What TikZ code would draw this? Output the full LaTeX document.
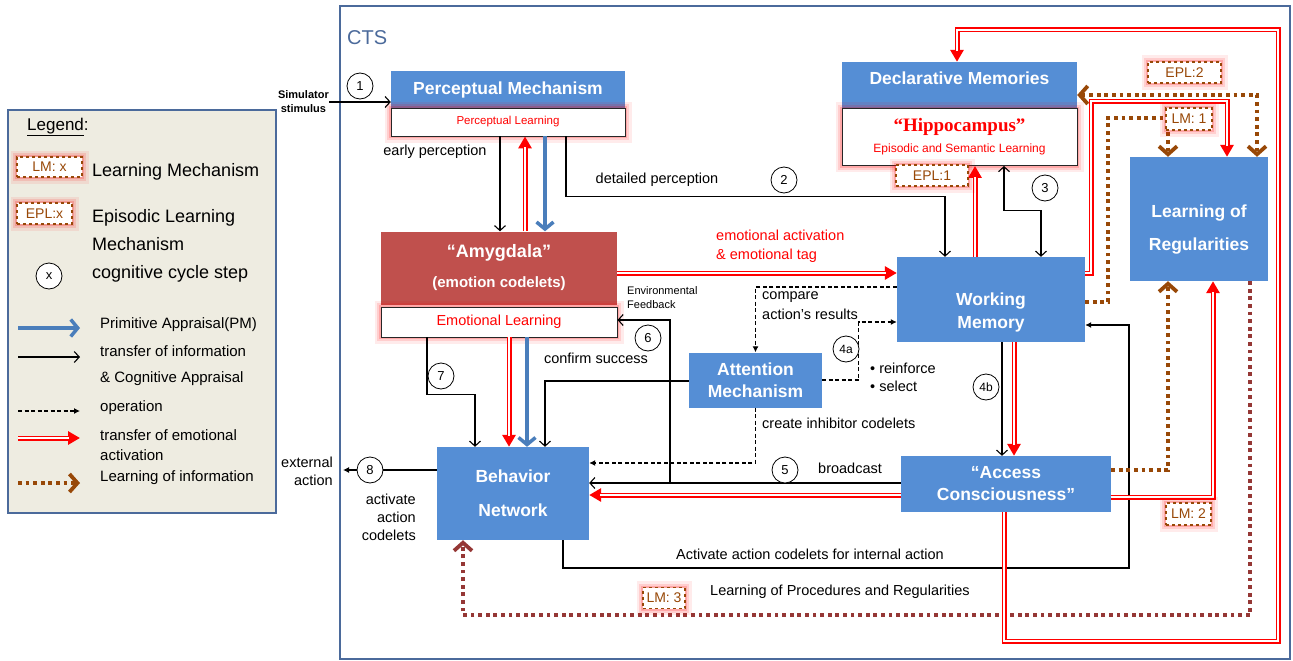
\documentclass[tikz,border=0pt]{standalone}
\usepackage{fontspec}
\setmainfont{Liberation Sans}
\newfontfamily\hipfont{Liberation Serif}
\usepackage{tikz}
\usetikzlibrary{arrows.meta}

\definecolor{boxblue}{HTML}{558ED5}
\definecolor{amyred}{HTML}{C0504D}
\definecolor{pablue}{HTML}{4A7EBB}
\definecolor{lrnbrown}{HTML}{984807}
\definecolor{procred}{HTML}{953735}
\definecolor{ctsframe}{HTML}{4B6A9B}
\definecolor{legfill}{HTML}{EEECE1}

\begin{document}
\begin{tikzpicture}[x=1pt,y=-1pt,
  blockbox/.style={fill=boxblue, text=white, inner sep=0pt, align=center, font=\bfseries\fontsize{17.5}{22}\selectfont},
  glow/.style={preaction={draw=red, draw opacity=.08, line width=13pt, solid}, preaction={draw=red, draw opacity=.12, line width=8pt, solid}, preaction={draw=red, draw opacity=.18, line width=4pt, solid}},
  learnbox/.style={draw=black!85, line width=0.9pt, fill=white, text=red, inner sep=0pt, align=center, glow},
  lmtag/.style={draw=lrnbrown, dashed, line width=1.1pt, fill=white, text=lrnbrown, inner sep=0pt, glow, font=\fontsize{14}{16}\selectfont},
  stepnum/.style={circle, draw, fill=white, line width=0.8pt, minimum size=26pt, inner sep=0pt, font=\fontsize{13}{15}\selectfont},
  lbl/.style={font=\fontsize{14.5}{19}\selectfont, inner sep=0pt, align=left},
  infoarr/.style={draw, line width=1.1pt, -{Straight Barb[length=5pt,width=11pt]}},
  infoboth/.style={infoarr, {Straight Barb[length=5pt,width=11pt]}-{Straight Barb[length=5pt,width=11pt]}},
  opdash/.style={draw, line width=1.1pt, dash pattern=on 4pt off 2.5pt, -{Latex[length=6pt,width=6pt]}},
  pmarr/.style={draw=pablue, line width=3.5pt, -{Straight Barb[length=7pt,width=17pt]}},
  emoarr/.style={preaction={draw=red, line width=5pt, shorten >=0pt, -{Triangle[length=12pt,width=13pt]}}, draw=white, line width=1.6pt, shorten >=11pt},
  lrnarr/.style={draw=lrnbrown, line width=3.8pt, dash pattern=on 3.8pt off 3.8pt, -{Straight Barb[length=8pt,width=18pt]}},
  procarr/.style={lrnarr, draw=procred}
]
\path[use as bounding box, fill=white] (0,0) rectangle (1293,661);

% legend
\node[draw=ctsframe, line width=2pt, fill=legfill, minimum width=268pt, minimum height=403pt, inner sep=0pt] (legend) at (142,311.5) {};
\node[anchor=west, inner sep=0pt, font=\fontsize{17}{20}\selectfont] (legtitle) at (27,127) {\underline{Legend}:};
\node[lmtag, minimum width=65pt, minimum height=20pt] (leglm) at (49.5,167) {LM: x};
\node[lmtag, minimum width=55pt, minimum height=21pt] (legepl) at (44.5,213.5) {EPL:x};
\node[stepnum] (legstep) at (49,276) {x};
\node[lbl, anchor=west, font=\fontsize{18}{28}\selectfont] (leglmtxt) at (92,172) {Learning Mechanism};
\node[lbl, anchor=west, font=\fontsize{18}{28}\selectfont] (legepltxt) at (92,230) {Episodic Learning\\Mechanism};
\node[lbl, anchor=west, font=\fontsize{18}{28}\selectfont] (legsteptxt) at (92,274) {cognitive cycle step};
\node[lbl, anchor=west, font=\fontsize{15}{26}\selectfont] (legpm) at (100,325) {Primitive Appraisal(PM)};
\node[lbl, anchor=west, font=\fontsize{15}{26}\selectfont] (leginfo) at (100,366) {transfer of information\\\& Cognitive Appraisal};
\node[lbl, anchor=west, font=\fontsize{15}{20}\selectfont] (legop) at (100,408) {operation};
\node[lbl, anchor=west, font=\fontsize{15}{20}\selectfont] (legemo) at (100,445.5) {transfer of emotional\\activation};
\node[lbl, anchor=west, font=\fontsize{15}{20}\selectfont] (leglrn) at (100,478) {Learning of information};
\foreach \sty/\yy in {pmarr/328, infoarr/357, opdash/411, emoarr/438, lrnarr/483}
  \draw[style=\sty] (18,\yy) -- (80,\yy);

% CTS frame
\node[draw=ctsframe, line width=2pt, minimum width=950pt, minimum height=653pt, inner sep=0pt] (cts) at (815,332.5) {};
\node[anchor=west, inner sep=0pt, text=ctsframe, font=\fontsize{20}{22}\selectfont] (ctslabel) at (347,38) {CTS};

% modules
\node[blockbox, minimum width=234pt, minimum height=37pt] (pm) at (508,89.5) {Perceptual Mechanism};
\node[learnbox, minimum width=234pt, minimum height=28pt, font=\fontsize{11.5}{13}\selectfont] (pl) at (508,122) {Perceptual Learning};
\node[blockbox, fill=amyred, minimum width=236pt, minimum height=73pt, font=\bfseries\fontsize{18}{30}\selectfont] (amy) at (499,268) {“Amygdala”\\{\fontsize{15}{30}\selectfont(emotion codelets)}};
\node[learnbox, minimum width=236pt, minimum height=30pt, font=\fontsize{14.5}{16}\selectfont] (el) at (499,322) {Emotional Learning};
\node[blockbox, minimum width=235pt, minimum height=46pt, text depth=14pt] (dm) at (959.5,85) {Declarative Memories};
\node[learnbox, minimum width=235pt, minimum height=57pt] (hip) at (959.5,137) {{\hipfont\bfseries\fontsize{19}{22}\selectfont “Hippocampus”}\\[7pt]{\fontsize{12}{14}\selectfont Episodic and Semantic Learning}};
\node[blockbox, minimum width=188pt, minimum height=85pt] (wm) at (991,299.5) {};
\node[blockbox, fill=none, font=\bfseries\fontsize{17.5}{23}\selectfont] (wmtext) at (991,312) {Working\\Memory};
\node[blockbox, minimum width=138pt, minimum height=124pt] (lor) at (1199,219) {};
\node[blockbox, fill=none, font=\bfseries\fontsize{17.5}{33}\selectfont] (lortext) at (1199,230) {Learning of\\Regularities};
\node[blockbox, minimum width=133pt, minimum height=55pt] (am) at (755.5,380) {Attention\\Mechanism};
\node[blockbox, minimum width=152pt, minimum height=93pt, font=\bfseries\fontsize{17.5}{34}\selectfont] (bn) at (513,493.5) {Behavior\\Network};
\node[blockbox, minimum width=210pt, minimum height=56pt] (ac) at (1006,484) {“Access\\Consciousness”};

% labels
\node[lbl, anchor=east, align=center, font=\bfseries\fontsize{11}{14}\selectfont] (sim) at (329,102) {Simulator\\stimulus};
\node[lbl] (earlyp) at (435,152) {early perception};
\node[lbl] (detp) at (657,180) {detailed perception};
\node[lbl, anchor=west, text=red] (emotag) at (716,246.5) {emotional activation\\\& emotional tag};
\node[lbl, anchor=west, font=\fontsize{11}{14}\selectfont] (envfb) at (627,298) {Environmental\\Feedback};
\node[lbl] (confirm) at (596,358) {confirm success};
\node[lbl, anchor=west, font=\fontsize{14.5}{20}\selectfont] (compare) at (762,306) {compare\\action’s results};
\node[lbl, anchor=west, font=\fontsize{14.5}{18}\selectfont] (reinf) at (870,377) {• reinforce\\• select};
\node[lbl, anchor=west] (inhib) at (762,423) {create inhibitor codelets};
\node[lbl, anchor=west] (bcast) at (818,468) {broadcast};
\node[lbl, anchor=east, align=right, font=\fontsize{14.5}{18}\selectfont] (extact) at (333,471) {external\\action};
\node[lbl, anchor=east, align=right, font=\fontsize{14.5}{18}\selectfont] (actcod) at (416,517) {activate\\action\\codelets};
\node[lbl] (intact) at (810,554) {Activate action codelets for internal action};
\node[lbl, anchor=west] (lrnproc) at (710,592) {Learning of Procedures and Regularities};

\coordinate (fbfoot) at (670,483);
\coordinate (extend) at (343,470);
\coordinate (intcorner) at (1129,568);
\coordinate (loopcorner) at (1278,641);
\coordinate (wmlorcorner) at (1091,101);
\coordinate (lmonecorner) at (1108,118);

% connectors
\draw[infoarr] (sim.east) -- (sim.east -| pm.west);
\draw[infoarr] ([xshift=-8pt]pl.south) -- ([xshift=1pt]amy.north);
\draw[emoarr] ([xshift=26pt]amy.north) -- ([xshift=17pt]pl.south);
\draw[pmarr] ([xshift=37pt]pl.south) -- ([xshift=46pt]amy.north);
\draw[infoarr] ([xshift=58pt]pl.south) |- ([xshift=-46pt,yshift=60pt]wm.north) -- ([xshift=-46pt]wm.north);
\draw[emoarr] ([yshift=-5pt]amy.east) -- ([yshift=26.5pt]wm.west);
\draw[infoarr] (fbfoot) |- ([yshift=2pt]el.east);
\draw[infoarr] ([yshift=1pt]ac.west) -- ([yshift=10.5pt]bn.east);
\draw[emoarr] ([yshift=-11pt]ac.west) -- ([yshift=-1.5pt]bn.east);
\draw[infoarr] ([xshift=11pt]wm.south) -- ([xshift=-4pt]ac.north);
\draw[emoarr] ([xshift=23pt]wm.south) -- ([xshift=8pt]ac.north);
\draw[infoarr] ([xshift=-72pt]el.south) |- ([xshift=-38pt,yshift=52pt]bn.north) -- ([xshift=-38pt]bn.north);
\draw[emoarr] ([xshift=10pt]el.south) -- ([xshift=-4pt]bn.north);
\draw[pmarr] ([xshift=28pt]el.south) -- ([xshift=14pt]bn.north);
\draw[infoarr] ([yshift=-1pt]am.west) -| ([xshift=32pt]bn.north);
\draw[opdash] ([yshift=12.5pt]wm.west) -| (am.north);
\draw[opdash] (am.east) -| ([xshift=-38pt,yshift=-22.5pt]wm.west) -- ([yshift=-22.5pt]wm.west);
\draw[opdash] (am.south) |- ([yshift=30.5pt]bn.east);
\draw[infoarr, -{Latex[length=6pt,width=6pt]}] ([yshift=23.5pt]bn.west) -- (extend);
\draw[infoarr, -{Latex[length=6pt,width=6pt]}] ([xshift=50pt]bn.south) |- (intcorner) |- ([yshift=-25.5pt]wm.east);
\draw[procarr] ([xshift=51pt]lor.south) |- ([xshift=-50pt,yshift=-75pt]bn.south) -- ([xshift=-50pt]bn.south);
\draw[emoarr] ([xshift=-2pt]ac.south) |- (loopcorner) |- ([xshift=-2.5pt,yshift=32pt]dm.north) -- ([xshift=-2.5pt]dm.north);
\draw[emoarr] ([yshift=26.5pt]wm.east) -| (wmlorcorner) -| ([xshift=28pt]lor.north);
\draw[emoarr] ([xshift=-16pt]wm.north) -- ([xshift=15.5pt]hip.south);
\draw[infoboth] ([xshift=44.5pt]hip.south) |- ([xshift=50pt,yshift=46pt]wm.north) -- ([xshift=50pt]wm.north);
\draw[lrnarr, {Straight Barb[length=8pt,width=18pt]}-{Straight Barb[length=8pt,width=18pt]}] ([yshift=-10pt]dm.east) -| ([xshift=58pt]lor.north);
\draw[lrnarr] ([yshift=-2.5pt]wm.east) -| (lmonecorner) -| ([xshift=-31pt]lor.north);
\draw[lrnarr] ([yshift=14pt]ac.east) -| ([xshift=-31pt]lor.south);
\draw[emoarr] ([yshift=-13pt]ac.east) -| ([xshift=14pt]lor.south);

% cycle steps
\node[stepnum] (c1) at (360,86) {1};
\node[stepnum] (c2) at (784,180) {2};
\node[stepnum] (c3) at (1045,188) {3};
\node[stepnum, font=\fontsize{12}{14}\selectfont] (c4a) at (846,349) {4a};
\node[stepnum, font=\fontsize{12}{14}\selectfont] (c4b) at (986,387) {4b};
\node[stepnum] (c5) at (785,470) {5};
\node[stepnum] (c6) at (648,338) {6};
\node[stepnum] (c7) at (441,376) {7};
\node[stepnum] (c8) at (370,470) {8};

% learning tags
\node[lmtag, minimum width=72pt, minimum height=21pt] (epl1) at (932,175.5) {EPL:1};
\node[lmtag, minimum width=73pt, minimum height=21pt] (epl2) at (1184.5,72.5) {EPL:2};
\node[lmtag, minimum width=46pt, minimum height=22pt] (lm1) at (1189,119) {LM: 1};
\node[lmtag, minimum width=45pt, minimum height=22pt] (lm2) at (1188.5,514) {LM: 2};
\node[lmtag, minimum width=42pt, minimum height=21pt] (lm3) at (664,598) {LM: 3};
\end{tikzpicture}
\end{document}
